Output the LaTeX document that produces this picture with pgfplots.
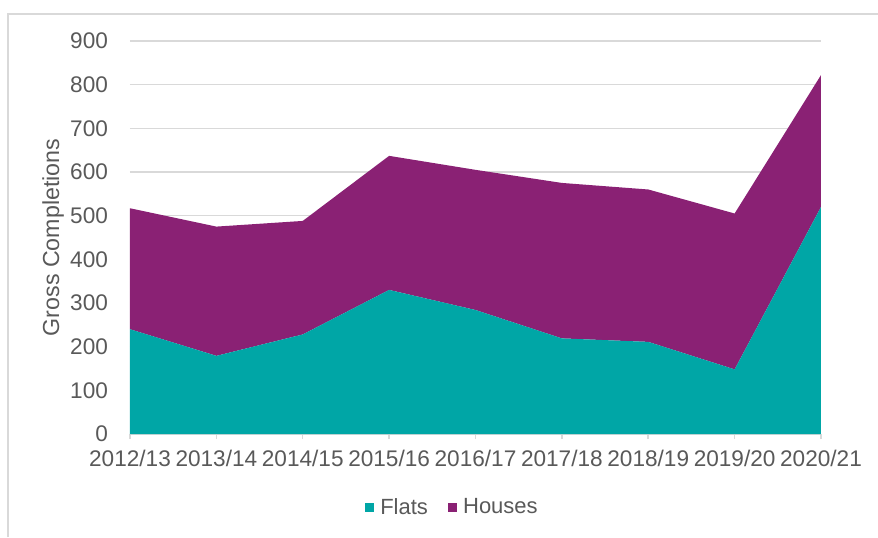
\documentclass[border=0pt]{standalone}
\usepackage{fontspec}
\setmainfont{Liberation Sans}
\usepackage{pgfplots}
\pgfplotsset{compat=1.18}
\definecolor{flats}{RGB}{0,166,166}
\definecolor{houses}{RGB}{138,33,116}
\definecolor{gridc}{RGB}{217,217,217}
\definecolor{txt}{RGB}{89,89,89}
\pgfplotsset{base/.style={
  at={(0,0)}, anchor=south west,
  scale only axis, width=345.5pt, height=196.5pt,
  xmin=0, xmax=8, ymin=0, ymax=900}}
\begin{document}
\begin{tikzpicture}[x=1pt,y=1pt]
\useasboundingbox (-65,-51.5) rectangle (374,217);
\draw[gridc, line width=0.75pt] (-61,-51.5) -- (-61,210) -- (374,210);
\begin{axis}[
  base,
  ytick={0,100,...,900},
  xtick={0,...,8},
  xticklabels={2012/13,2013/14,2014/15,2015/16,2016/17,2017/18,2018/19,2019/20,2020/21},
  axis x line*=bottom, axis y line*=left,
  y axis line style={draw=none},
  x axis line style={draw=gridc, line width=0.75pt, -},
  ytick style={draw=none},
  xtick style={draw=gridc, line width=0.75pt},
  tick align=outside, major tick length=2.5pt,
  ymajorgrids, grid style={draw=gridc, line width=0.75pt},
  /pgf/number format/assume math mode=true,
  tick label style={font=\fontsize{11.3}{13}\selectfont, text=txt},
  yticklabel style={xshift=-5pt},
  xticklabel style={yshift=-2pt},
  ylabel={Gross Completions},
  every axis y label/.append style={at={(axis description cs:-0.1114,0.5)}, anchor=center, font=\fontsize{11.6}{13}\selectfont, text=txt},
]
\end{axis}
\begin{axis}[
  base, hide axis,
  stack plots=y, area style,
  legend style={at={(0.468,-0.188)}, anchor=center, draw=none, fill=none, legend columns=2,
    font=\fontsize{11}{13}\selectfont, text=txt,
    /tikz/every even column/.append style={column sep=8pt},
    legend cell align=left},
  legend image code/.code={\fill[#1] (0pt,-2.3pt) rectangle (4.6pt,2.3pt);},
]
\addplot[fill=flats, draw=none] coordinates {(0,240) (1,179) (2,228) (3,330) (4,284) (5,219) (6,211) (7,148) (8,520)} \closedcycle;
\addlegendentry{\hspace{1pt}Flats}
\addplot[fill=houses, draw=none] coordinates {(0,277) (1,296) (2,260) (3,307) (4,321) (5,356) (6,349) (7,357) (8,302)} \closedcycle;
\addlegendentry{\hspace{1pt}Houses}
\end{axis}
\end{tikzpicture}
\end{document}
